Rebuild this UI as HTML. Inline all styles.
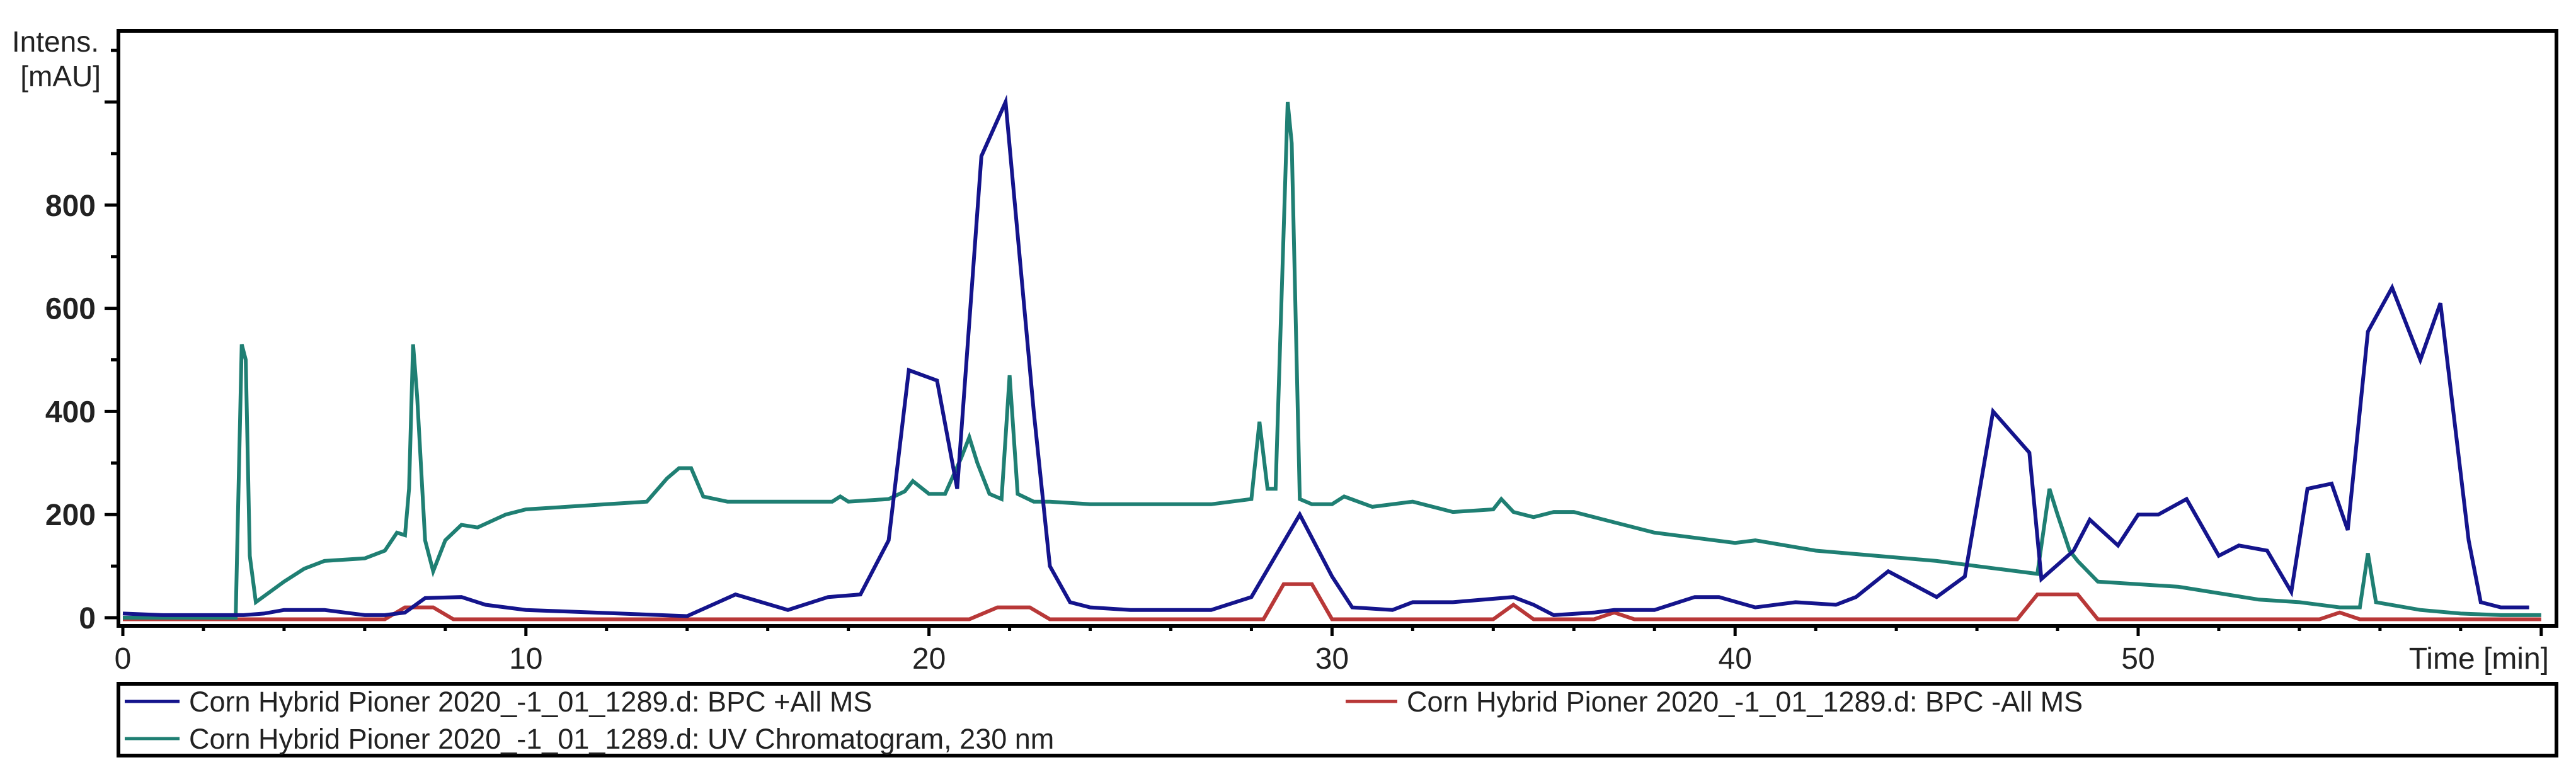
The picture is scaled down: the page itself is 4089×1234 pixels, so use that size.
<!DOCTYPE html>
<html><head><meta charset="utf-8"><style>
html,body{margin:0;padding:0;background:#fff}
svg{display:block}
text{font-family:"Liberation Sans",sans-serif;fill:#222}
</style></head><body>
<svg id="chart" width="4089" height="1234" viewBox="0 0 4089 1234" xmlns="http://www.w3.org/2000/svg">
<g id="axes"></g>
<g id="series"></g>
<rect x="188" y="49" width="3870" height="945" fill="none" stroke="#000" stroke-width="6"/>
<text x="157" y="82" font-size="46" text-anchor="end">Intens.</text>
<text x="160" y="137" font-size="46" text-anchor="end">[mAU]</text>
<text x="4046" y="1062" font-size="48" text-anchor="end">Time [min]</text>
<rect x="188" y="1086" width="3870" height="114" fill="none" stroke="#000" stroke-width="6"/>
<g>
<line x1="198" y1="1114" x2="285" y2="1114" stroke="#14148c" stroke-width="5"/>
<text x="300" y="1130" font-size="45">Corn Hybrid Pioner 2020_-1_01_1289.d: BPC +All MS</text></g>
<g>
<line x1="2136" y1="1114" x2="2218" y2="1114" stroke="#b83838" stroke-width="5"/>
<text x="2233" y="1130" font-size="45">Corn Hybrid Pioner 2020_-1_01_1289.d: BPC -All MS</text></g>
<g>
<line x1="198" y1="1173" x2="285" y2="1173" stroke="#1f7f73" stroke-width="5"/>
<text x="300" y="1189" font-size="45">Corn Hybrid Pioner 2020_-1_01_1289.d: UV Chromatogram, 230 nm</text></g>
</svg>
<script>
const xTicksMajor=[0,10,20,30,40,50,60];
const xTickLabels=["0","10","20","30","40","50",""];
const yTicks=[0,200,400,600,800];
const yTickLabels=["0","200","400","600","800"];
const bpcPlusT=[0,1,2,3,3.5,4,5,6,6.5,7,7.5,8.4,9,10,14,15.2,16.5,17.5,18.3,19,19.5,20.2,20.7,21.3,21.9,22.6,23,23.5,24,25,27,28,29.2,30,30.5,31.5,32,33,34.5,35,35.5,36.5,37,38,39,39.6,40.5,41.5,42.5,43,43.8,45,45.7,46.4,47.3,47.6,48.4,48.8,49.5,50,50.5,51.2,52,52.5,53.2,53.8,54.2,54.8,55.2,55.7,56.3,57,57.5,58.2,58.5,59,59.7];
const bpcPlusV=[8,5,5,5,8,15,15,5,5,10,38,40,25,15,3,45,15,40,45,150,480,460,250,895,1000,400,100,30,20,15,15,40,200,80,20,15,30,30,40,25,5,10,15,15,40,40,20,30,25,40,90,40,80,400,320,75,130,190,140,200,200,230,120,140,130,50,250,260,170,555,640,500,610,150,30,20,20];
const bpcMinusT=[0,6.5,7,7.7,8.2,21,21.7,22.5,23,28.3,28.8,29.5,30,34,34.5,35,36.5,37,37.5,47,47.5,48.5,49,54.5,55,55.5,60];
const bpcMinusV=[-3,-3,20,20,-3,-3,20,20,-3,-3,65,65,-3,-3,25,-3,-3,10,-3,-3,45,45,-3,-3,10,-3,-3];
const uvT=[0,2,2.8,2.95,3.05,3.15,3.3,4,4.5,5,6,6.5,6.8,7,7.1,7.2,7.3,7.5,7.7,8,8.4,8.8,9.5,10,11,12,13,13.5,13.8,14.1,14.4,15,17,17.6,17.8,18,19,19.4,19.6,20,20.4,20.8,21,21.2,21.5,21.8,22,22.2,22.6,23,24,27,28,28.2,28.4,28.6,28.9,29,29.2,29.5,30,30.3,31,32,33,34,34.2,34.5,35,35.5,36,36.5,38,40,40.5,42,45,47.5,47.8,48,48.3,48.5,49,51,53,54,55,55.5,55.7,55.9,57,58,59,60];
const uvV=[0,0,0,530,500,120,30,70,95,110,115,130,165,160,250,530,430,150,90,150,180,175,200,210,215,220,225,270,290,290,235,225,225,225,235,225,230,245,265,240,240,310,350,300,240,230,470,240,225,225,220,220,230,380,250,250,1000,920,230,220,220,235,215,225,205,210,230,205,195,205,205,195,165,145,150,130,110,85,250,200,130,110,70,60,35,30,20,20,125,30,15,8,5,5];

const NS="http://www.w3.org/2000/svg";
const x0=195,pxPerMin=63.98,y0=981,pxPerUnit=0.819;
function xs(t){return x0+t*pxPerMin;}
function ys(v){return y0-v*pxPerUnit;}
const axes=document.getElementById('axes');
const series=document.getElementById('series');
function mk(tag,attrs,parent){const e=document.createElementNS(NS,tag);for(const k in attrs)e.setAttribute(k,attrs[k]);parent.appendChild(e);return e;}
for(let v=0;v<=1100;v+=100){
  const major=v%200===0;
  const l=mk('line',{x1:major?166:176,x2:188,y1:ys(v),y2:ys(v),stroke:'#000','stroke-width':5},axes);
  
  
}
yTicks.forEach((v,i)=>{
  const t=mk('text',{x:152,y:ys(v)+17,'font-size':48,'text-anchor':'end','font-weight':'bold'},axes);
  t.textContent=yTickLabels[i];
  
  
});
for(let m=0;m<=60;m+=2){
  const major=m%10===0;
  const l=mk('line',{x1:xs(m),x2:xs(m),y1:994,y2:major?1010:1002,stroke:'#000','stroke-width':5},axes);
  
  
}
xTicksMajor.forEach((m,i)=>{
  const t=mk('text',{x:xs(m),y:1062,'font-size':48,'text-anchor':'middle'},axes);
  t.textContent=xTickLabels[i];
  
  
});
function line(T,V,color,name){
  const pts=T.map((t,i)=>xs(t).toFixed(1)+','+ys(V[i]).toFixed(1)).join(' ');
  const p=mk('polyline',{points:pts,fill:'none',stroke:color,'stroke-width':6,'stroke-linejoin':'miter'},series);
  
  
}
line(bpcMinusT,bpcMinusV,'#b83838','bpc-minus-line');
line(uvT,uvV,'#1f7f73','uv-230nm-line');
line(bpcPlusT,bpcPlusV,'#14148c','bpc-plus-line');
</script>
</body></html>
